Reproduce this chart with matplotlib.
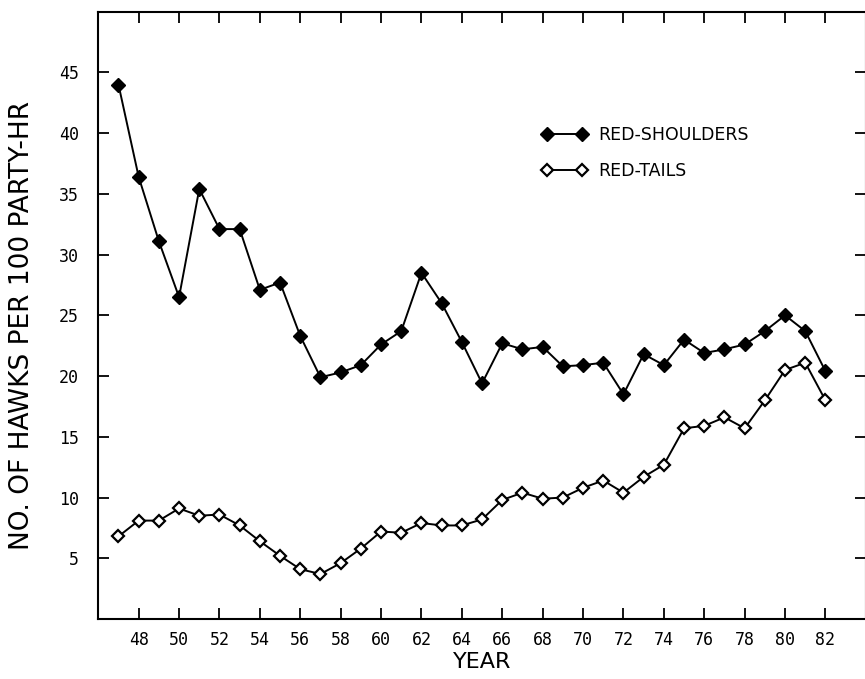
import matplotlib
matplotlib.use("Agg")
import matplotlib.pyplot as plt
import numpy as np

#####################################
# data (1947-1982)
#####################################
years = list(range(47, 83))
red_shoulders = [44.0, 36.4, 31.1, 26.5, 35.4, 32.1, 32.1, 27.1, 27.7, 23.3,
                 19.9, 20.3, 20.9, 22.6, 23.7, 28.5, 26.0, 22.8, 19.4, 22.7,
                 22.2, 22.4, 20.8, 20.9, 21.1, 18.5, 21.8, 20.9, 23.0, 21.9,
                 22.2, 22.6, 23.7, 25.0, 23.7, 20.4]
red_tails = [6.8, 8.1, 8.1, 9.1, 8.5, 8.6, 7.7, 6.4, 5.2, 4.1,
             3.7, 4.6, 5.8, 7.2, 7.1, 7.9, 7.7, 7.7, 8.2, 9.8,
             10.4, 9.9, 10.0, 10.8, 11.4, 10.4, 11.7, 12.7, 15.7, 15.9,
             16.6, 15.7, 18.0, 20.5, 21.1, 18.0]
x_ticks = list(range(48, 83, 2))
y_ticks = [5, 10, 15, 20, 25, 30, 35, 40, 45]

label_font = ['DejaVu Sans']
tick_font = ['DejaVu Sans Mono']

fig = plt.figure(figsize=(8.65, 6.79), dpi=100)
ax = fig.add_axes([0.1136, 0.0884, 0.8874, 0.8944])

ax.plot(years, red_shoulders, color='black', lw=1.4, marker='D', ms=7.5,
        mfc='black', mec='black', label='RED-SHOULDERS')
ax.plot(years, red_tails, color='black', lw=1.4, marker='D', ms=6,
        mfc='white', mec='black', mew=1.6, label='RED-TAILS')

ax.set_xlim(46, 84)
ax.set_ylim(0, 50)

ax.set_xticks(x_ticks)
ax.set_xticklabels([str(v) for v in x_ticks], family=tick_font, fontsize=12)
ax.set_yticks(y_ticks)
ax.set_yticklabels([str(v) for v in y_ticks], family=tick_font, fontsize=12)
ax.tick_params(direction='in', length=8, width=1.3, top=True, right=True,
               colors='black')
ax.tick_params(axis='y', pad=14)
ax.tick_params(axis='x', pad=9)

for s in ax.spines.values():
    s.set_linewidth(1.5)

ax.set_xlabel('YEAR', family=label_font, fontsize=16, labelpad=2)
fig.text(0.026, 0.52, 'NO. OF HAWKS PER 100 PARTY-HR', family=label_font,
         fontsize=19, rotation=90, ha='center', va='center')

ax.legend(loc='upper left', bbox_to_anchor=(0.558, 0.838), frameon=False,
          numpoints=2, handlelength=2.6, handletextpad=0.6, labelspacing=1.05,
          prop={'family': label_font, 'size': 12.5})

plt.savefig('out.png', dpi=100)
